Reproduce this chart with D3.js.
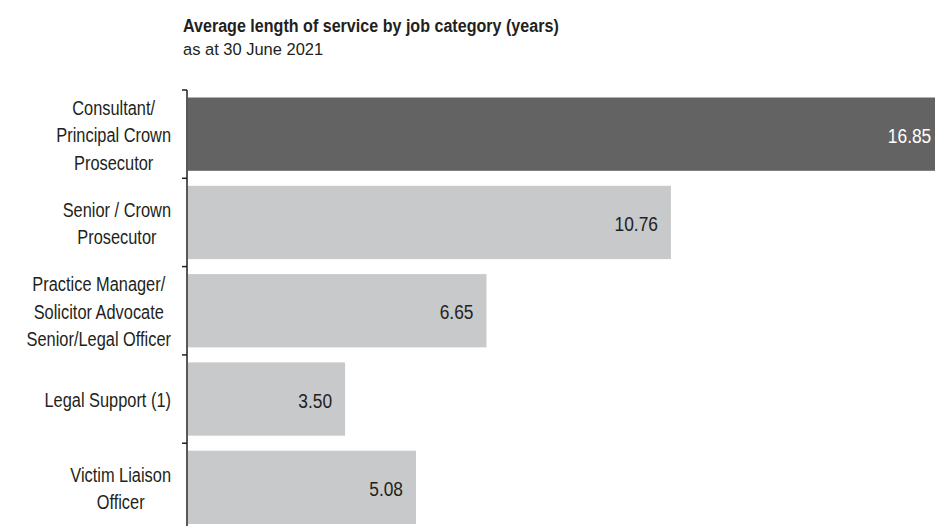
<!DOCTYPE html>
<html>
<head>
<meta charset="utf-8">
<script src="https://cdn.jsdelivr.net/npm/d3@7"></script>
<style>
	body { margin: 0; background: #fff; }
	text { font-family: "Liberation Sans", Arial, sans-serif; fill: #231f20; }
</style>
</head>
<body>
<script>
// chart data
var categories = [
	["Consultant/", "Principal Crown", "Prosecutor"],
	["Senior / Crown", "Prosecutor"],
	["Practice Manager/", "Solicitor Advocate", "Senior/Legal Officer"],
	["Legal Support (1)"],
	["Victim Liaison", "Officer"]
];
var values = [16.85, 10.76, 6.65, 3.50, 5.08];
var barColors = ["#636364", "#c8c9ca", "#c8c9ca", "#c8c9ca", "#c8c9ca"];
var labelColors = ["#ffffff", "#231f20", "#231f20", "#231f20", "#231f20"];

window.onload = function(){
	var w = 935, h = 526;
	// the reference font is a narrow one, so squeeze text sideways
	var squeeze = 0.78;

	var svg = d3.select("body")
		.append("svg")
		.attr("width", w)
		.attr("height", h);

	// title block
	svg.append("text")
		.attr("transform", "translate(183,32) scale(0.87,1)")
		.style("font-weight", "bold")
		.style("font-size", "18.5px")
		.text("Average length of service by job category (years)");

	svg.append("text")
		.attr("transform", "translate(183,54.5) scale(0.97,1)")
		.style("font-size", "17px")
		.text("as at 30 June 2021");

	var idx = d3.range(values.length);

	// scales
	var x = d3.scaleLinear()
		.domain([0, 20])
		.range([188, 188 + 44.88 * 20]);

	var y = d3.scaleBand()
		.domain(idx)
		.range([90, 531.5])
		.paddingInner(0.17)
		.paddingOuter(0.085);

	// bars
	svg.selectAll(".bar")
		.data(idx)
		.enter()
		.append("rect")
		.attr("class", "bar")
		.attr("x", x(0))
		.attr("y", function(d){ return y(d); })
		.attr("width", function(d){ return x(values[d]) - x(0); })
		.attr("height", y.bandwidth())
		.style("fill", function(d){ return barColors[d]; });

	// value labels inside the bar end
	svg.selectAll(".value")
		.data(idx)
		.enter()
		.append("text")
		.attr("class", "value")
		.attr("transform", function(d){
			return "translate(" + (x(values[d]) - 13) + "," + (y(d) + y.bandwidth() / 2 + 8.5) + ") scale(0.89,1)";
		})
		.attr("text-anchor", "end")
		.style("font-size", "19.5px")
		.style("fill", function(d){ return labelColors[d]; })
		.text(function(d){ return values[d].toFixed(2); });

	// category axis: line with ticks at band boundaries
	var half = y.step() * y.paddingInner() / 2;
	var bounds = idx.map(function(d){ return y(d) - half; });

	svg.append("line")
		.attr("x1", 187).attr("x2", 187)
		.attr("y1", bounds[0]).attr("y2", h)
		.style("stroke", "#231f20")
		.style("stroke-width", 1.5);

	svg.selectAll(".tick")
		.data(bounds)
		.enter()
		.append("line")
		.attr("class", "tick")
		.attr("x1", 182).attr("x2", 187)
		.attr("y1", function(d){ return d; })
		.attr("y2", function(d){ return d; })
		.style("stroke", "#231f20")
		.style("stroke-width", 1.5);

	// category labels: block right-aligned, lines centred inside the block
	var lineH = 27.5;
	var labels = svg.selectAll(".cat")
		.data(idx)
		.enter()
		.append("text")
		.attr("class", "cat")
		.attr("transform", "translate(171,0) scale(" + squeeze + ",1)")
		.attr("text-anchor", "middle")
		.style("font-size", "21px");

	labels.each(function(d){
		var lines = categories[d];
		var cy = y(d) + y.bandwidth() / 2 + 8;
		var top = cy - (lines.length - 1) * lineH / 2;
		var spans = d3.select(this).selectAll("tspan")
			.data(lines)
			.enter()
			.append("tspan")
			.attr("y", function(t, i){ return top + i * lineH; })
			.text(function(t){ return t; });
		var maxW = d3.max(spans.nodes(), function(n){ return n.getComputedTextLength(); });
		spans.attr("x", -maxW / 2);
	});
};
</script>
</body>
</html>
